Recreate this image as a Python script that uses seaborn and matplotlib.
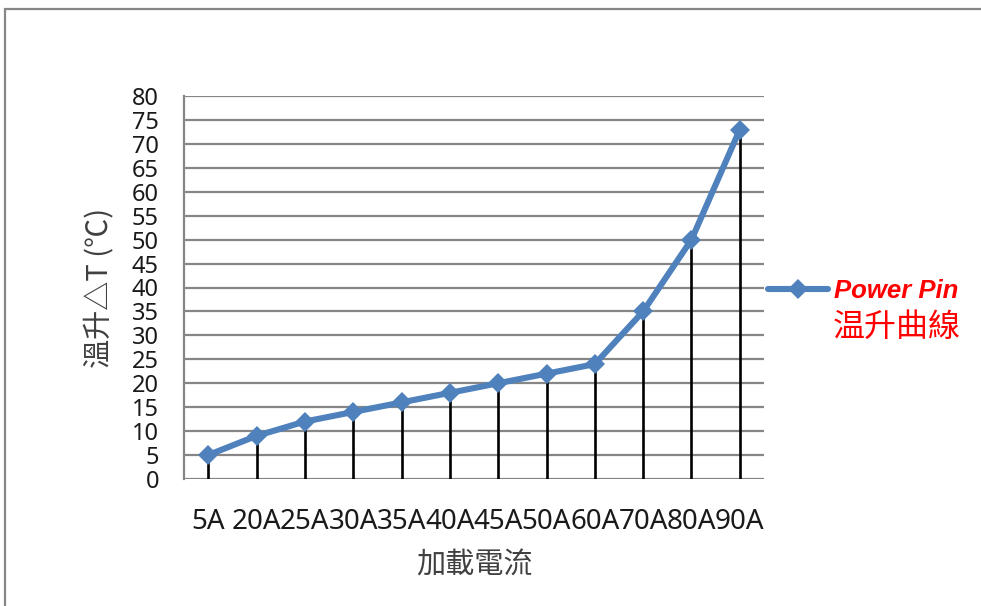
import numpy as np
import pandas as pd
import seaborn as sns
from matplotlib import pyplot as plt
from matplotlib.patches import Rectangle

# data
currents = ['5A', '20A', '25A', '30A', '35A', '40A', '45A', '50A', '60A', '70A', '80A', '90A']
temp_rise = [5, 9, 12, 14, 16, 18, 20, 22, 24, 35, 50, 73]
y_ticks = list(range(0, 85, 5))

x_label = '加載電流'
y_label = '溫升△T (℃)'
legend_line1 = 'Power Pin'
legend_line2 = '温升曲線'

BLUE = '#4F81BD'
GRID = '#868686'
CJK = ['Noto Sans CJK TC', 'DejaVu Sans']

sns.set_style('white')
plt.rcParams['font.family'] = ['Noto Sans', 'Noto Sans CJK TC', 'DejaVu Sans']

df = pd.DataFrame({'current': currents, 'rise': temp_rise})
df['pos'] = np.arange(len(df))

fig = plt.figure(figsize=(9.81, 6.06), dpi=100)
ax = fig.add_axes([184 / 981, 1 - 479 / 606, (764 - 184) / 981, (479 - 96) / 606])

# drop lines from each point down to the axis
ax.vlines(df['pos'], 0, df['rise'], color='black', lw=1.9, zorder=2)

sns.lineplot(data=df, x='pos', y='rise', ax=ax, color=BLUE, lw=4.4,
             marker='D', markersize=10.5, markeredgewidth=0, zorder=3,
             label=legend_line1, legend=False)

ax.set_xlim(-0.5, len(df) - 0.5)
ax.set_ylim(0, 80)
ax.set_yticks(y_ticks)
ax.set_xticks(df['pos'])
ax.set_xticklabels(currents, fontsize=20, color='#1a1a1a')
ax.tick_params(axis='x', length=0, pad=21)
ax.tick_params(axis='y', length=6, width=1.5, color=GRID, pad=12, labelsize=17,
               labelcolor='#1a1a1a', direction='out')

ax.yaxis.grid(True, color=GRID, lw=1.6)
ax.xaxis.grid(False)
ax.set_axisbelow(True)
for side in ['top', 'right', 'bottom']:
    ax.spines[side].set_visible(False)
ax.spines['left'].set_color(GRID)
ax.spines['left'].set_linewidth(1.6)

ax.set_xlabel(x_label, family=CJK, fontsize=21, color='#404040', labelpad=10)
ax.set_ylabel(y_label, family=CJK, fontsize=21, color='#404040', labelpad=12)

# legend on the right with a two-line red label
leg = fig.legend(handles=ax.lines[-1:], labels=[legend_line1], loc='center left',
                 bbox_to_anchor=(768 / 981, 1 - 291 / 606), frameon=False,
                 handlelength=2.35, handletextpad=0.2, borderpad=0, borderaxespad=0,
                 prop={'family': 'Liberation Sans', 'weight': 'bold', 'style': 'italic',
                       'size': 18.5})
for txt in leg.get_texts():
    txt.set_color('#FF0000')
fig.text(833 / 981, 1 - 327 / 606, legend_line2, family=CJK, fontsize=23,
         style='italic', color='#FF0000', ha='left', va='center')

# chart area border (only left and top edges visible in the crop)
fig.patches.append(Rectangle((5 / 981, -0.1), 1.2, 0.1 + (606 - 9) / 606,
                             transform=fig.transFigure, fill=False,
                             edgecolor=GRID, lw=1.6, clip_on=False))

fig.savefig('out.png', dpi=100, facecolor='white')
